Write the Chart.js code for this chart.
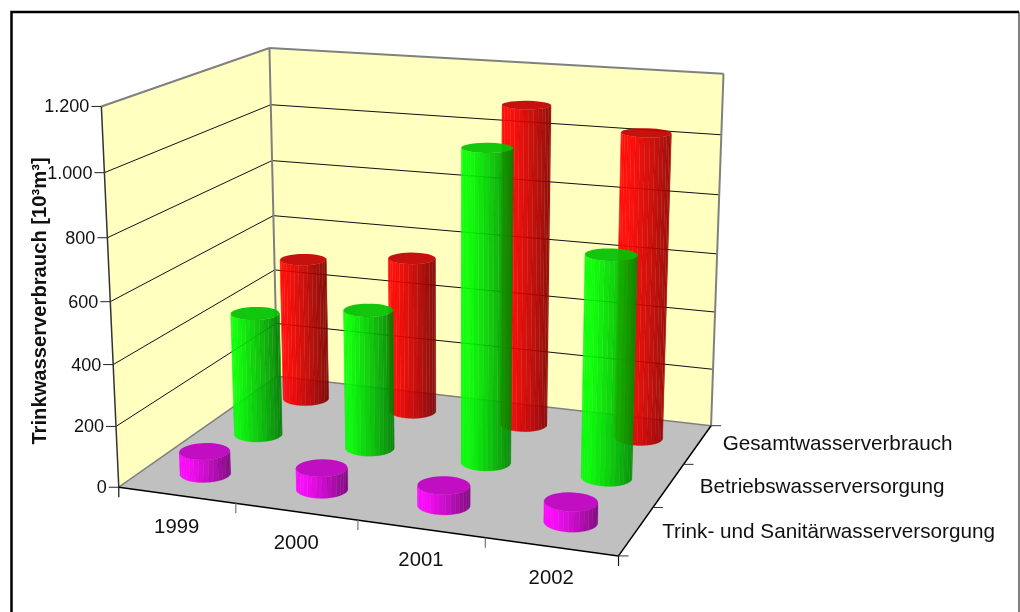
<!DOCTYPE html>
<html lang="de">
<head>
<meta charset="utf-8">
<title>Trinkwasserverbrauch</title>
<script src="https://cdn.jsdelivr.net/npm/chart.js@4"></script>
<style>
  html, body { margin: 0; background: #fff; }
  canvas { display: block; }
</style>
</head>
<body>
<canvas id="waterChart" width="1020" height="612"></canvas>
<script>
const years = ['1999', '2000', '2001', '2002'];
const seriesNames = ['Trink- und Sanitärwasserversorgung', 'Betriebswasserversorgung', 'Gesamtwasserverbrauch'];

const trinkValues = [75, 70, 65, 65];
const betriebValues = [420, 470, 1030, 725];
const gesamtValues = [505, 545, 1095, 1030];

const axisTitle = 'Trinkwasserverbrauch [10³m³]';

// box corners on screen, used to fit the perspective below: [u, v, w, x, y]
const boxCorners = [
    [0, 0, 0, 118, 487.3],
    [1, 0, 0, 618.7, 555.7],
    [1, 1, 0, 710.7, 426],
    [0, 1, 0, 278, 376],
    [0, 0, 1, 102, 106.6],
    [0, 1, 1, 268.7, 48],
    [1, 1, 1, 723.7, 73.7]
];

const FONT = '"Liberation Sans", Arial, sans-serif';
const RADIUS_U = 0.05;
const RADIUS_V = 0.065;
const SIDES = 32;

// series labels do not sit evenly along the depth edge
const seriesLabelNudge = [[26, 1], [31, 2], [25, 0]];

// least squares fit of an 11 parameter projective camera
function fitCamera(points) {
    const rows = [];
    points.forEach(([u, v, w, px, py]) => {
        const x = px / 1000, y = py / 1000;
        rows.push([u, v, w, 1, 0, 0, 0, 0, -x * u, -x * v, -x * w, x]);
        rows.push([0, 0, 0, 0, u, v, w, 1, -y * u, -y * v, -y * w, y]);
    });
    const n = 11;
    const m = [];
    for (let i = 0; i < n; i++) {
        m.push([]);
        for (let j = 0; j <= n; j++) {
            m[i].push(rows.reduce((sum, r) => sum + r[i] * r[j], 0));
        }
    }
    for (let i = 0; i < n; i++) {
        let best = i;
        for (let k = i + 1; k < n; k++) {
            if (Math.abs(m[k][i]) > Math.abs(m[best][i])) best = k;
        }
        [m[i], m[best]] = [m[best], m[i]];
        for (let k = 0; k < n; k++) {
            if (k === i) continue;
            const f = m[k][i] / m[i][i];
            for (let j = i; j <= n; j++) m[k][j] -= f * m[i][j];
        }
    }
    return m.map((row, i) => row[n] / row[i]);
}

const cam = fitCamera(boxCorners);

function project(u, v, w) {
    const d = cam[8] * u + cam[9] * v + cam[10] * w + 1;
    return {
        x: 1000 * (cam[0] * u + cam[1] * v + cam[2] * w + cam[3]) / d,
        y: 1000 * (cam[4] * u + cam[5] * v + cam[6] * w + cam[7]) / d
    };
}

function shade(hex, f) {
    const n = parseInt(hex.slice(1), 16);
    const r = Math.round((n >> 16 & 255) * f);
    const g = Math.round((n >> 8 & 255) * f);
    const b = Math.round((n & 255) * f);
    return `rgb(${r},${g},${b})`;
}

function sideLight(s) {
    if (s < 0.15) return 1;
    if (s < 0.55) return 1 - (s - 0.15) * 0.55;
    return 0.78 - (s - 0.55) * 0.65;
}

function fillPoly(ctx, pts, color) {
    ctx.fillStyle = color;
    ctx.beginPath();
    pts.forEach((p, i) => i ? ctx.lineTo(p.x, p.y) : ctx.moveTo(p.x, p.y));
    ctx.closePath();
    ctx.fill();
}

function line(ctx, a, b, color, width) {
    ctx.strokeStyle = color;
    ctx.lineWidth = width;
    ctx.beginPath();
    ctx.moveTo(a.x, a.y);
    ctx.lineTo(b.x, b.y);
    ctx.stroke();
}

// scale value -> 0..1 position along that axis
function decimal(scale, value) {
    return scale.getDecimalForPixel(scale.getPixelForValue(value));
}

class CylinderController extends Chart.BarController {
    draw() {
        const ctx = this.chart.ctx;
        const meta = this.getMeta();
        const color = this.getDataset().backgroundColor;
        const v = decimal(this.chart.scales.z, this.index);
        ctx.save();
        ctx.globalAlpha = 0.93;
        meta.data.forEach((bar, i) => {
            const parsed = this.getParsed(i);
            const u = decimal(meta.xScale, parsed.x);
            drawCylinder(ctx, u, v, decimal(meta.yScale, parsed.y), color);
        });
        ctx.restore();
    }
}
CylinderController.id = 'cylinder';
CylinderController.defaults = Chart.BarController.defaults;
CylinderController.overrides = Chart.BarController.overrides;
Chart.register(CylinderController);

function drawCylinder(ctx, u, v, w, color) {
    const low = [], high = [];
    for (let i = 0; i <= SIDES; i++) {
        const t = -Math.PI / 2 + i / SIDES * 2 * Math.PI;
        const cu = u + RADIUS_U * Math.cos(t);
        const cv = v + RADIUS_V * Math.sin(t);
        low.push(project(cu, cv, 0));
        high.push(project(cu, cv, w));
    }
    const xs = low.concat(high).map(p => p.x);
    const left = Math.min(...xs), right = Math.max(...xs);
    for (let i = 0; i < SIDES; i++) {
        // only the facets turned towards the viewer
        if (low[i + 1].x <= low[i].x) continue;
        const mid = (low[i].x + low[i + 1].x) / 2;
        const facetColor = shade(color, sideLight((mid - left) / (right - left)));
        fillPoly(ctx, [low[i], low[i + 1], high[i + 1], high[i]], facetColor);
        // thin stroke keeps the seams between facets faint
        ctx.strokeStyle = facetColor;
        ctx.lineWidth = 0.25;
        ctx.stroke();
    }
    fillPoly(ctx, high, shade(color, 0.76));
}

const boxPlugin = {
    id: 'box',
    beforeDatasetsDraw(chart) {
        const ctx = chart.ctx;
        const yScale = chart.scales.y;
        const xScale = chart.scales.x;
        const zScale = chart.scales.z;
        const wallColor = '#ffffc0', edge = '#808080', ink = '#111';

        ctx.save();
        ctx.lineCap = 'butt';

        // outer frame, open towards the bottom
        ctx.strokeStyle = '#000';
        ctx.lineWidth = 2.5;
        ctx.beginPath();
        ctx.moveTo(11.5, 612);
        ctx.lineTo(11.5, 12);
        ctx.lineTo(1019, 12);
        ctx.stroke();
        ctx.lineWidth = 1;
        ctx.beginPath();
        ctx.moveTo(1019, 12);
        ctx.lineTo(1019, 612);
        ctx.stroke();

        fillPoly(ctx, [project(0, 0, 0), project(0, 1, 0), project(0, 1, 1), project(0, 0, 1)], wallColor);
        fillPoly(ctx, [project(0, 1, 0), project(1, 1, 0), project(1, 1, 1), project(0, 1, 1)], wallColor);
        fillPoly(ctx, [project(0, 0, 0), project(1, 0, 0), project(1, 1, 0), project(0, 1, 0)], '#c0c0c0');

        // value grid and its labels on the left edge
        ctx.font = '18px ' + FONT;
        ctx.textAlign = 'right';
        ctx.textBaseline = 'middle';
        yScale.ticks.forEach(tick => {
            const w = decimal(yScale, tick.value);
            const a = project(0, 0, w), b = project(0, 1, w), c = project(1, 1, w);
            if (w > 0 && w < 1) {
                line(ctx, a, b, '#111', 1);
                line(ctx, b, c, '#111', 1);
            }
            line(ctx, { x: a.x - 10, y: a.y }, a, '#222', 1);
            ctx.fillStyle = ink;
            ctx.fillText(tick.label, a.x - 12, a.y + 1);
        });

        // wall outlines
        line(ctx, project(0, 0, 1), project(0, 1, 1), edge, 2);
        line(ctx, project(0, 1, 1), project(1, 1, 1), edge, 2);
        line(ctx, project(1, 1, 1), project(1, 1, 0), edge, 2);
        line(ctx, project(0, 1, 1), project(0, 1, 0), edge, 2);
        line(ctx, project(0, 1, 0), project(1, 1, 0), edge, 1.5);
        line(ctx, project(0, 0, 0), project(0, 1, 0), edge, 1.5);
        line(ctx, project(0, 0, 0), project(0, 0, 1), '#333', 1.5);

        // front floor edges
        line(ctx, project(0, 0, 0), project(1, 0, 0), '#000', 1.5);
        line(ctx, project(1, 0, 0), project(1, 1, 0), '#000', 1.5);

        // year ticks and labels
        const yearCount = years.length;
        for (let i = 0; i <= yearCount; i++) {
            const p = project(i / yearCount, 0, 0);
            const outer = i === 0 || i === yearCount;
            line(ctx, p, { x: p.x, y: p.y + 10 }, outer ? '#111' : '#777', 1.2);
        }
        ctx.font = '20.3px ' + FONT;
        ctx.textAlign = 'center';
        ctx.fillStyle = ink;
        xScale.ticks.forEach((tick, i) => {
            const p = project(decimal(xScale, i), 0, 0);
            ctx.fillText(tick.label, p.x, p.y + 32);
        });

        // series ticks and labels
        const seriesCount = seriesNames.length;
        for (let j = 0; j <= seriesCount; j++) {
            const p = project(1, j / seriesCount, 0);
            line(ctx, p, { x: p.x + 10, y: p.y }, '#333', 1);
        }
        ctx.font = '20.7px ' + FONT;
        ctx.textAlign = 'left';
        zScale.ticks.forEach((tick, j) => {
            const p = project(1, decimal(zScale, j), 0);
            ctx.fillText(tick.label, p.x + seriesLabelNudge[j][0], p.y + seriesLabelNudge[j][1]);
        });

        // rotated axis title
        ctx.translate(40, 301);
        ctx.rotate(-Math.PI / 2);
        ctx.font = 'bold 20.2px ' + FONT;
        ctx.textAlign = 'center';
        ctx.fillText(axisTitle, 0, 0);
        ctx.restore();
    }
};

const waterChart = new Chart(document.getElementById('waterChart').getContext('2d'), {
    type: 'cylinder',
    data: {
        labels: years,
        datasets: [
            { label: seriesNames[0], data: trinkValues, backgroundColor: '#ff00ff' },
            { label: seriesNames[1], data: betriebValues, backgroundColor: '#00ff00' },
            { label: seriesNames[2], data: gesamtValues, backgroundColor: '#ff0000' }
        ]
    },
    options: {
        responsive: false,
        animation: false,
        locale: 'de-DE',
        layout: { padding: 0 },
        plugins: { legend: { display: false }, tooltip: { enabled: false } },
        scales: {
            x: { type: 'category', offset: true, display: false },
            y: { type: 'linear', min: 0, max: 1200, ticks: { stepSize: 200 }, display: false },
            z: { type: 'category', axis: 'x', position: 'bottom', labels: seriesNames, offset: true, display: false }
        }
    },
    plugins: [boxPlugin]
});
</script>
</body>
</html>
